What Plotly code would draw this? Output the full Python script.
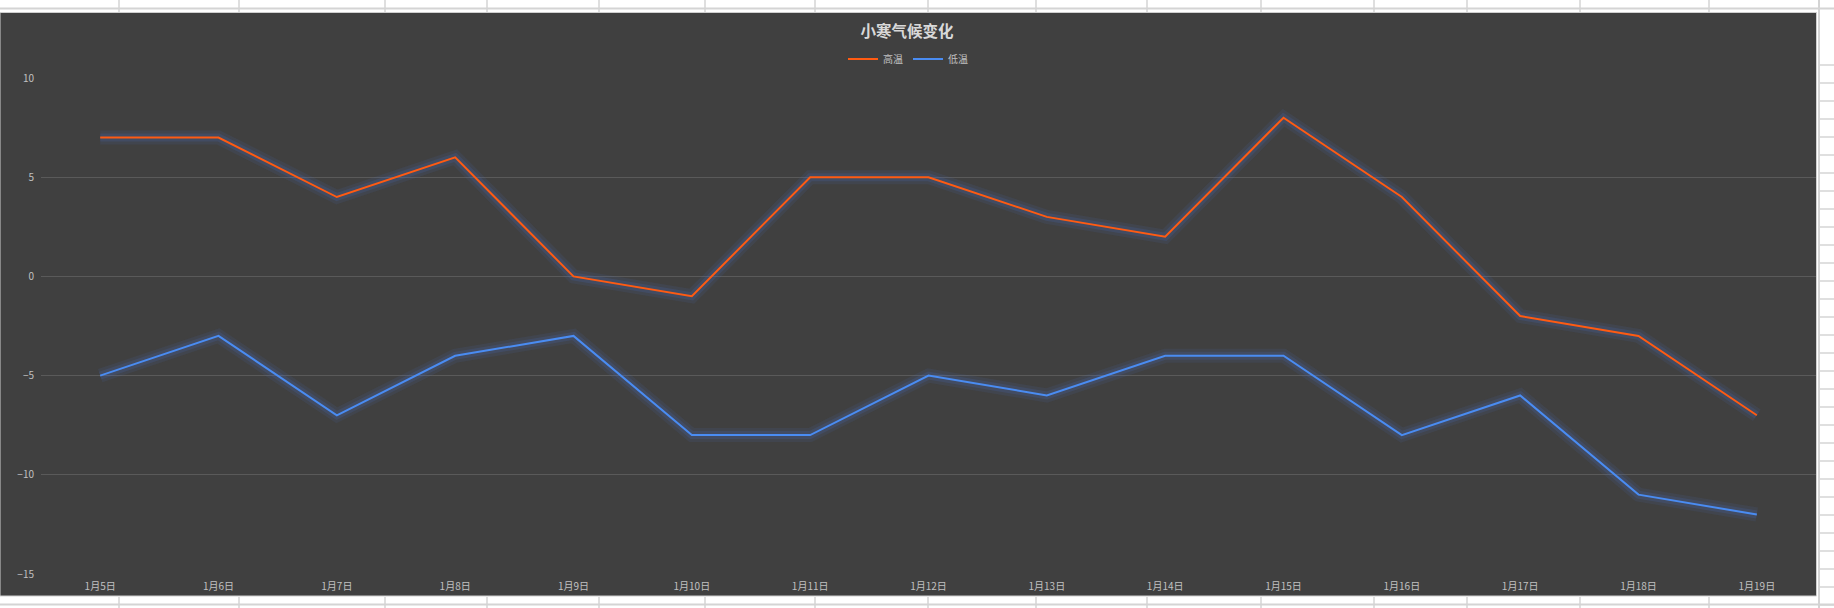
import plotly.graph_objects as go

# ---- data ----
dates = ["1月5日", "1月6日", "1月7日", "1月8日", "1月9日", "1月10日", "1月11日", "1月12日",
         "1月13日", "1月14日", "1月15日", "1月16日", "1月17日", "1月18日", "1月19日"]
high = [7, 7, 4, 6, 0, -1, 5, 5, 3, 2, 8, 4, -2, -3, -7]
low = [-5, -3, -7, -4, -3, -8, -8, -5, -6, -4, -4, -8, -6, -11, -12]
y_ticks = [10, 5, 0, -5, -10, -15]
title_text = "小寒气候变化"
series_names = ["高温", "低温"]

W, H = 1834, 608
ML, MR, MT, MB = 41, 18, 78, 34
PW, PH = W - ML - MR, H - MT - MB

def px(x):
    return (x - ML) / PW

def py(y):
    return (H - MB - y) / PH

FONT = "Noto Sans CJK SC, Noto Sans, sans-serif"
ORANGE = "#FF5B12"
BLUE = "#4A8CF2"
GLOW1 = "rgba(70,105,185,0.12)"
GLOW2 = "rgba(70,105,185,0.20)"

fig = go.Figure()

for vals in (high, low):
    fig.add_trace(go.Scatter(x=dates, y=vals, mode="lines", showlegend=False, hoverinfo="skip",
                             line=dict(color=GLOW1, width=14)))
    fig.add_trace(go.Scatter(x=dates, y=vals, mode="lines", showlegend=False, hoverinfo="skip",
                             line=dict(color=GLOW2, width=8)))

fig.add_trace(go.Scatter(x=dates, y=high, mode="lines", name=series_names[0],
                         line=dict(color=ORANGE, width=2)))
fig.add_trace(go.Scatter(x=dates, y=low, mode="lines", name=series_names[1],
                         line=dict(color=BLUE, width=2)))

# spreadsheet background and chart area
shapes = []
GRIDC = "#d4d4d4"
shapes.append(dict(type="rect", xref="paper", yref="paper", layer="below",
                   x0=px(0), x1=px(1816.5), y0=py(596), y1=py(12.5),
                   fillcolor="#404040", line=dict(color="#cfcfcf", width=1)))
vcols = [119, 239, 385, 487, 599, 705, 815, 928, 1036, 1147, 1261, 1374, 1467, 1580, 1709]
for vx in vcols:
    shapes.append(dict(type="line", xref="paper", yref="paper", layer="below",
                       x0=px(vx), x1=px(vx), y0=py(0), y1=py(12),
                       line=dict(color=GRIDC, width=1.5)))
    shapes.append(dict(type="line", xref="paper", yref="paper", layer="below",
                       x0=px(vx), x1=px(vx), y0=py(597), y1=py(608),
                       line=dict(color=GRIDC, width=1.5)))
shapes.append(dict(type="line", xref="paper", yref="paper", layer="below",
                   x0=px(1819), x1=px(1819), y0=py(0), y1=py(608),
                   line=dict(color=GRIDC, width=2)))
shapes.append(dict(type="line", xref="paper", yref="paper", layer="below",
                   x0=px(0), x1=px(1834), y0=py(8.6), y1=py(8.6),
                   line=dict(color=GRIDC, width=2)))
shapes.append(dict(type="line", xref="paper", yref="paper", layer="below",
                   x0=px(0), x1=px(1834), y0=py(604.5), y1=py(604.5),
                   line=dict(color=GRIDC, width=2)))
yy = 65
while yy < 608:
    shapes.append(dict(type="line", xref="paper", yref="paper", layer="below",
                       x0=px(1820), x1=px(1834), y0=py(yy), y1=py(yy),
                       line=dict(color=GRIDC, width=1.5)))
    yy += 18

fig.update_layout(
    width=W, height=H,
    margin=dict(l=ML, r=MR, t=MT, b=MB, pad=0),
    paper_bgcolor="#ffffff",
    plot_bgcolor="#404040",
    shapes=shapes,
    font=dict(family=FONT, color="#c0c0c0", size=10),
    title=dict(text="<b>" + title_text + "</b>", x=px(907), xref="paper", xanchor="center",
               y=1 - 32 / H, yref="container", yanchor="middle",
               font=dict(family=FONT, size=15.5, color="#d9d9d9")),
    legend=dict(orientation="h", x=px(908), xanchor="center", y=py(59), yanchor="middle",
                bgcolor="rgba(0,0,0,0)", font=dict(family=FONT, size=10, color="#c0c0c0"),
                itemwidth=30, tracegroupgap=0),
    showlegend=True,
    xaxis=dict(type="category", range=[-0.5, len(dates) - 0.5], showgrid=False,
               zeroline=False, showline=False, ticks="", fixedrange=True,
               tickfont=dict(family=FONT, size=10, color="#c0c0c0"), ticklabelstandoff=5),
    yaxis=dict(range=[-15, 10], tickvals=y_ticks, showgrid=True, gridcolor="#5a5a5a",
               gridwidth=1, zeroline=False, showline=False, ticks="",
               tickfont=dict(family=FONT, size=10, color="#c0c0c0"), ticklabelstandoff=6),
)

fig.write_html("out.html")
